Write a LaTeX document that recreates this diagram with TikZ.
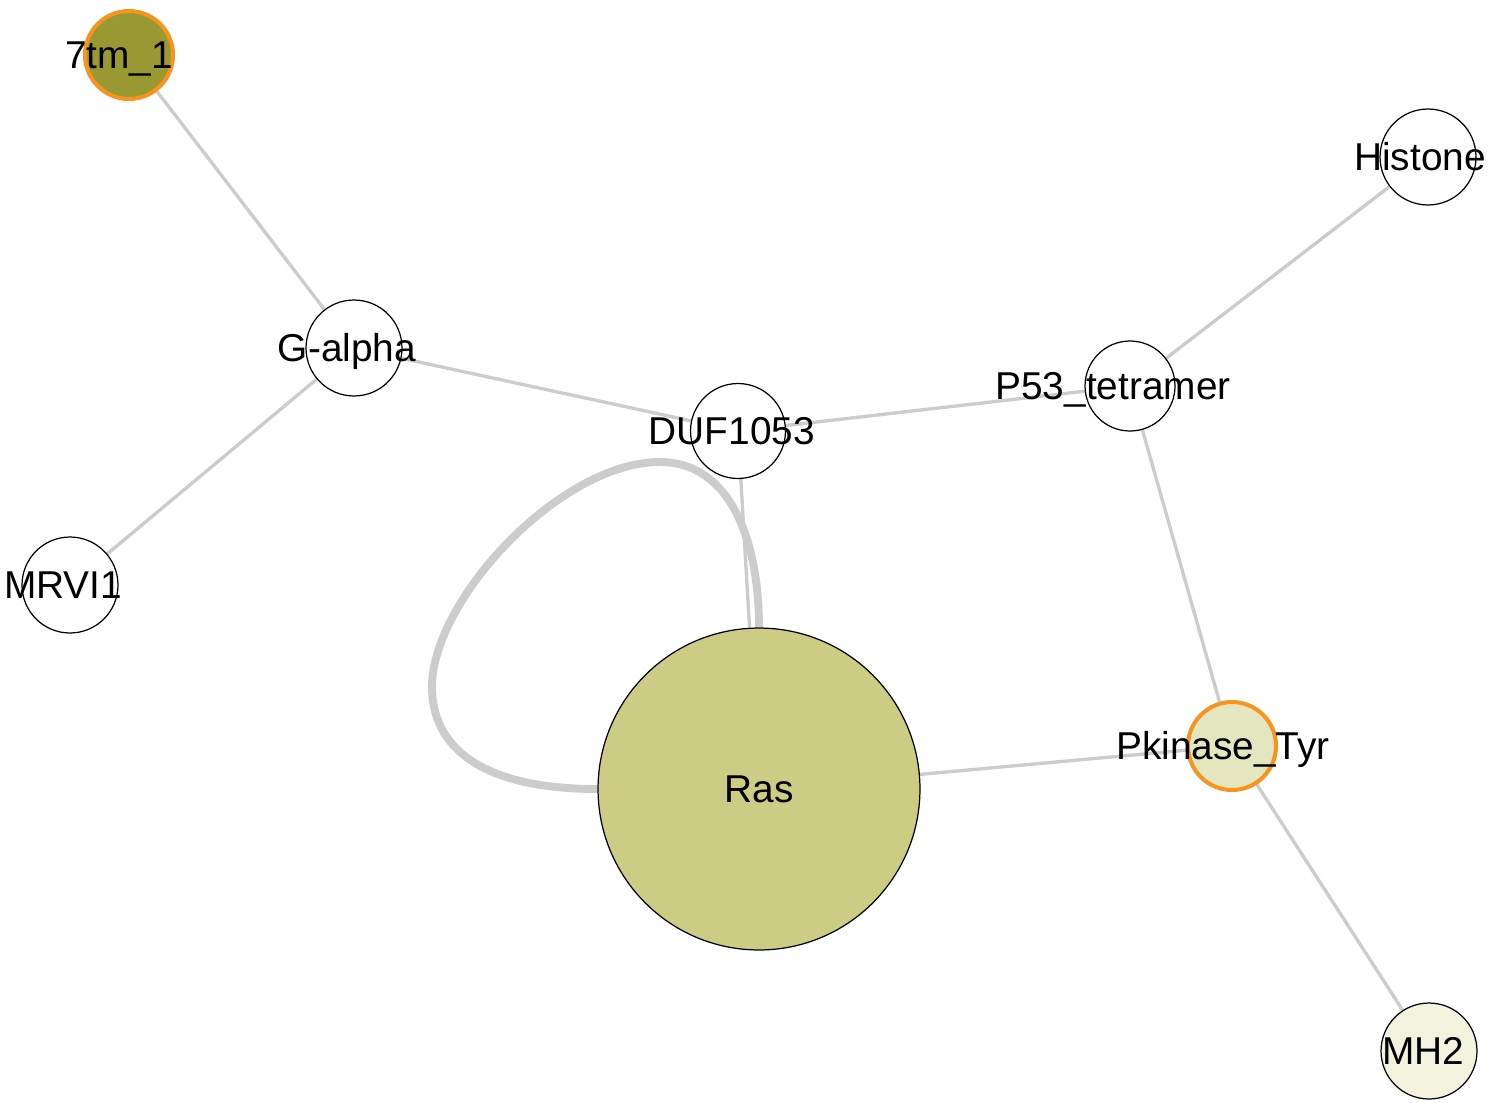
\documentclass[tikz,border=0pt]{standalone}
\usepackage{fontspec}
\setmainfont{Liberation Sans}
\usetikzlibrary{backgrounds}
\definecolor{edgegray}{HTML}{CCCCCC}
\definecolor{hotline}{HTML}{F7941E}
\definecolor{olivefill}{HTML}{999933}
\definecolor{rasfill}{HTML}{CCCC84}
\definecolor{pkinfill}{HTML}{E3E6BF}
\definecolor{mhfill}{HTML}{F3F2DE}
\tikzset{
  dom/.style={circle, draw=black, line width=0.7pt, fill=white, minimum size=1.92cm, inner sep=0pt},
  hot/.style={draw=hotline, line width=2.3pt, minimum size=1.76cm},
  edge/.style={draw=edgegray, line width=1.9pt},
  every label/.style={font=\fontsize{22.1}{24}\selectfont, inner sep=0pt, text height=15.9pt, text depth=0pt},
}

\begin{document}
\begin{tikzpicture}[x=0.02cm, y=-0.02cm]
\useasboundingbox (0,0) rectangle (1503,1102);

\node[dom, hot, fill=olivefill, label={[xshift=-0.2cm]center:7tm\_1}] (tm) at (129,55) {};
\node[dom, label={[xshift=-0.16cm]center:Histone}] (histone) at (1428,157) {};
\node[dom, label={[xshift=-0.14cm]center:G-alpha}] (galpha) at (354,348) {};
\node[dom, minimum size=1.8cm, label={[xshift=-0.34cm]center:P53\_tetramer}] (p53) at (1130,386) {};
\node[dom, minimum size=1.9cm, label={[xshift=-0.12cm]center:DUF1053}] (duf) at (738,431) {};
\node[dom, label={[xshift=-0.14cm]center:MRVI1}] (mrvi) at (70,585) {};
\node[dom, fill=rasfill, minimum size=6.44cm, label={center:Ras}] (ras) at (759,789) {};
\node[dom, hot, fill=pkinfill, label={[xshift=-0.18cm]center:Pkinase\_Tyr}] (pkin) at (1232,746) {};
\node[dom, fill=mhfill, label={[xshift=-0.12cm]center:MH2}] (mh) at (1429,1051) {};

\begin{pgfonlayer}{background}
\draw[edge] (tm) -- (galpha);
\draw[edge] (galpha) -- (mrvi);
\draw[edge] (galpha) -- (duf);
\draw[edge] (duf) -- (p53);
\draw[edge] (p53) -- (histone);
\draw[edge] (p53) -- (pkin);
\draw[edge] (pkin) -- (mh);
\draw[edge] (pkin) -- (ras);
\draw[edge] (duf) -- (ras);
\draw[edge, line width=4.5pt] (ras.west) .. controls (478,789) and (432,745) .. (432,687)
  .. controls (432,600) and (560,462) .. (660,462)
  .. controls (730,462) and (759,540) .. (ras.north);
\end{pgfonlayer}
\end{tikzpicture}
\end{document}
